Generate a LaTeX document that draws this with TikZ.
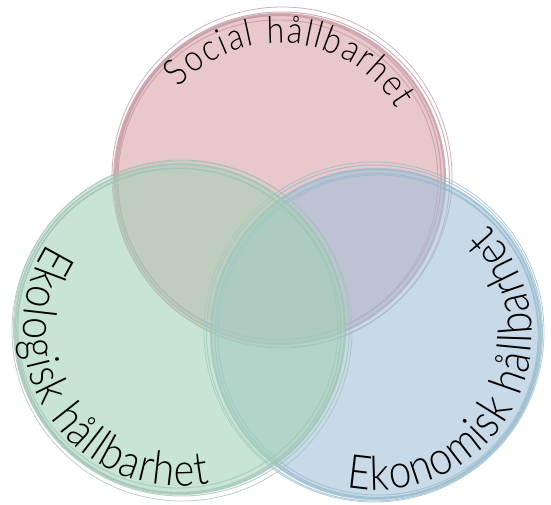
\documentclass[tikz,border=0pt]{standalone}
\usepackage{fontspec}
\setmainfont{Lato Light}[FakeStretch=0.86]
\usetikzlibrary{decorations.text}
\definecolor{socfill}{RGB}{217,163,167}
\definecolor{ekofill}{RGB}{163,210,183}
\definecolor{ekonfill}{RGB}{163,193,217}
\definecolor{socline}{RGB}{196,150,162}
\definecolor{ekoline}{RGB}{160,195,182}
\definecolor{ekonline}{RGB}{150,185,204}
\tikzset{
  venn/.style={fill=#1, fill opacity=0.6},
  brush/.style={draw=#1, draw opacity=0.75},
  arctext/.style 2 args={decorate, decoration={text along path, text={|\fontsize{#1}{#1}\selectfont|#2}, text align=fit to path}}
}
\begin{document}
\begin{tikzpicture}[x=1pt, y=1pt]
        \useasboundingbox (0,0) rectangle (551,504);
        \coordinate (soc) at (280,325);
        \coordinate (eko) at (180,175);
        \coordinate (ekon) at (376,170);

        % Social
        \fill[venn=socfill] (soc) circle[radius=165];
        \foreach \dx/\dy/\dr/\lw in {0/0/0/2.2, 1.5/-1/3/1.0, -1/1.5/-3/1.2, 2/2/5/0.8, -2/-1/-5/0.9}
          \draw[brush=socline, line width=\lw pt] ([shift={(\dx,\dy)}]soc) circle[radius=165+\dr];

        % Ekonomisk
        \fill[venn=ekonfill] (ekon) circle[radius=165];
        \foreach \dx/\dy/\dr/\lw in {0/0/0/2.2, -1.5/1/3/1.0, 1/-1.5/-3/1.2, -2/2/5/0.8, 2/-1/-5/0.9}
          \draw[brush=ekonline, line width=\lw pt] ([shift={(\dx,\dy)}]ekon) circle[radius=165+\dr];

        % Ekologisk
        \fill[venn=ekofill] (eko) circle[radius=165];
        \foreach \dx/\dy/\dr/\lw in {0/0/0/2.2, 1.5/1/3/1.0, -1/-1.5/-3/1.2, 2/-2/5/0.8, -2/1/-5/0.9}
          \draw[brush=ekoline, line width=\lw pt] ([shift={(\dx,\dy)}]eko) circle[radius=165+\dr];

        % Labels
        \path[arctext={37}{Social hållbarhet}] ([shift={(138:136)}]soc) arc[start angle=138, end angle=31, radius=136];
        \path[arctext={46}{Ekologisk hållbarhet}] ([shift={(147:157)}]eko) arc[start angle=147, end angle=281, radius=157];
        \path[arctext={47}{Ekonomisk hållbarhet}] ([shift={(259:156)}]ekon) arc[start angle=259, end angle=404, radius=156];
    \end{tikzpicture}
\end{document}
